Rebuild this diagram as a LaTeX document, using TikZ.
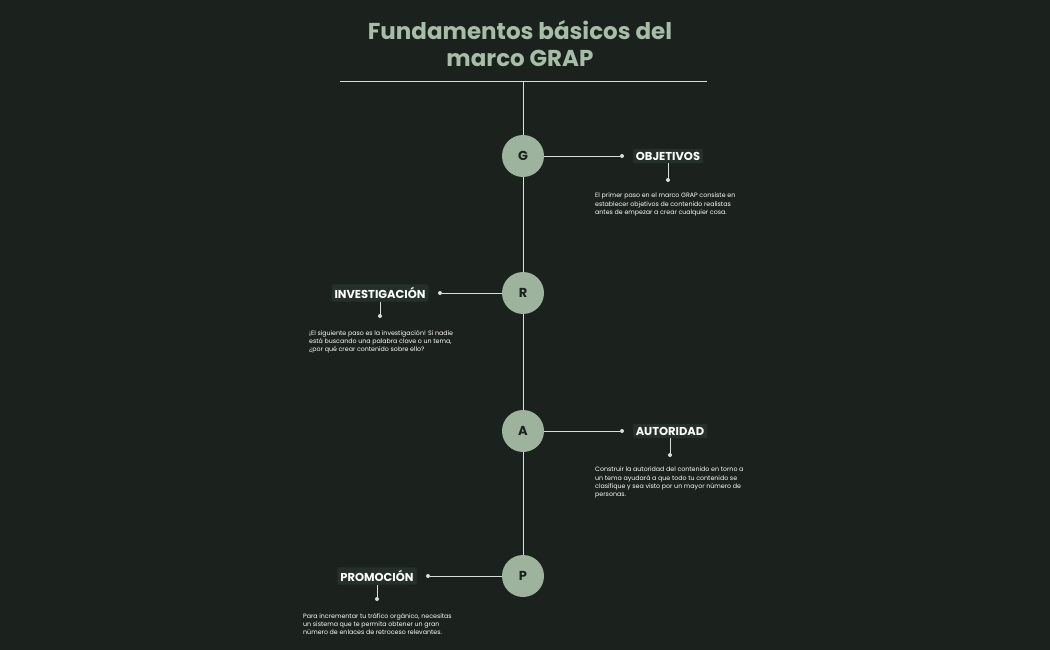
\documentclass[tikz,border=0pt]{standalone}
\usepackage{fontspec}
\setmainfont{Poppins}
\definecolor{bg}{HTML}{1B221E}
\definecolor{sage}{HTML}{9DB39E}
\definecolor{titlec}{HTML}{A8BDA7}
\definecolor{boxc}{HTML}{26302A}
\definecolor{linec}{HTML}{D8DED8}
\tikzset{
 letter/.style={circle,fill=sage,minimum size=42pt,inner sep=0pt,font=\fontsize{13}{13}\selectfont\bfseries,text=bg},
 lab/.style={fill=boxc,rounded corners=2pt,text=white,font=\fontsize{11.5}{12}\selectfont\bfseries,inner sep=3pt},
 body/.style={text=white,font=\fontsize{6.3}{8.2}\selectfont,align=left,anchor=north west,inner sep=0pt},
 ln/.style={draw=linec,line width=0.9pt},
 dotc/.style={circle,fill=linec,inner sep=0pt,minimum size=4pt}
}
\begin{document}
\begin{tikzpicture}[x=1pt,y=-1pt]
\fill[bg] (0,0) rectangle (1050,650);
\useasboundingbox (0,0) rectangle (1050,650);
\node[text=titlec,font=\fontsize{23}{27}\selectfont\bfseries,align=center] (title) at (520,44) {Fundamentos básicos del\\marco GRAP};
\coordinate (hl) at (340,81); \coordinate (hr) at (707,81); \coordinate (top) at (523,81);
\draw[ln] (hl) -- (hr);
\node[letter] (G) at (523,156) {G};
\node[letter] (R) at (523,293) {R};
\node[letter] (A) at (523,431) {A};
\node[letter] (P) at (523,576) {P};
\draw[ln] (top) -- (G) -- (R) -- (A) -- (P);
% G
\node[lab] (obj) at (668,156) {OBJETIVOS};
\node[dotc] (d1) at (622,156) {}; \node[dotc] (e1) at (668,180) {};
\draw[ln] (G) -- (d1); \draw[ln] (obj) -- (e1);
\node[body] (t1) at (595,193) {El primer paso en el marco GRAP consiste en\\establecer objetivos de contenido realistas\\antes de empezar a crear cualquier cosa.};
% R
\node[lab] (inv) at (380,293) {INVESTIGACIÓN};
\node[dotc] (d2) at (440,293) {}; \node[dotc] (e2) at (380,316) {};
\draw[ln] (R) -- (d2); \draw[ln] (inv) -- (e2);
\node[body] (t2) at (309,330) {¡El siguiente paso es la investigación! Si nadie\\está buscando una palabra clave o un tema,\\¿por qué crear contenido sobre ello?};
% A
\node[lab] (aut) at (670,431) {AUTORIDAD};
\node[dotc] (d3) at (622,431) {}; \node[dotc] (e3) at (670,455) {};
\draw[ln] (A) -- (d3); \draw[ln] (aut) -- (e3);
\node[body] (t3) at (595,467) {Construir la autoridad del contenido en torno a\\un tema ayudará a que todo tu contenido se\\clasifique y sea visto por un mayor número de\\personas.};
% P
\node[lab] (pro) at (377,576) {PROMOCIÓN};
\node[dotc] (d4) at (428,576) {}; \node[dotc] (e4) at (377,599) {};
\draw[ln] (P) -- (d4); \draw[ln] (pro) -- (e4);
\node[body] (t4) at (303,613) {Para incrementar tu tráfico orgánico, necesitas\\un sistema que te permita obtener un gran\\número de enlaces de retroceso relevantes.};
\end{tikzpicture}
\end{document}
